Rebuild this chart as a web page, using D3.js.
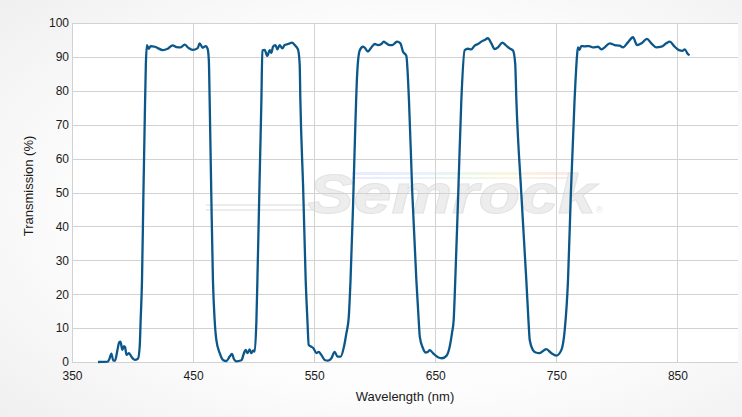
<!DOCTYPE html>
<html>
<head>
<meta charset="utf-8">
<script src="https://cdn.jsdelivr.net/npm/d3@7"></script>
<style>
  html, body { margin: 0; padding: 0; }
  body { width: 742px; height: 417px; overflow: hidden; }
  svg { display: block; font-family: "Liberation Sans", Arial, sans-serif; }
</style>
</head>
<body>
<svg id="chart" width="742" height="417"></svg>
<script>
// ---- data ----
const wavelengths = [
  371.5, 375, 379.5, 381, 382.5, 384, 385.5, 387.5, 389, 390, 391.6, 392.9, 393.8, 395, 397.1, 399, 401.8, 404.5, 405.9, 406.7,
  407.8, 409, 410, 411, 411.9, 413.3, 415, 418.3, 420.8, 424.9, 429, 433.1, 436.4, 439.7, 443, 446.3, 449.6, 453.8, 455.4, 457.9,
  460.4, 462, 463, 463.7, 465, 466.4, 467.8, 469.2, 472, 474.7, 477.5, 480.2, 482.1, 483.8, 485.7, 489.9, 492, 493.4, 494.8, 496.7,
  498.1, 499.8, 500.9, 502.3, 503.1, 505, 506.4, 507.2, 509.1, 511.3, 513.3, 514.6, 516, 518, 519.6, 521.5, 523.7, 525.6, 528.4, 531.7,
  533.9, 536.6, 538, 538.6, 541, 543, 544.4, 545.5, 547.7, 549.5, 551.8, 553.7, 555.9, 558.7, 561.4, 564.2, 566.9, 569.2, 571.9, 574.6,
  576.6, 578.5, 580, 582, 584, 585.5, 587.6, 590.3, 591.5, 594.4, 597.2, 600, 602.7, 605.5, 607.4, 609.6, 612.3, 614.6, 616.5, 618.4,
  621.2, 623.3, 626.1, 628.3, 631, 634.4, 636.3, 637.2, 639.9, 641.8, 643.6, 645.4, 648.1, 652.2, 655.5, 659.2, 661.9, 663.8, 665.2, 666.5,
  669, 671.5, 674.3, 677, 679.7, 682.5, 685.3, 688, 690.8, 693.5, 696.3, 699, 701.8, 705.4, 708.1, 711.4, 714.2, 716, 717, 721,
  725.2, 727, 728, 730.7, 733, 736, 741.7, 745.9, 750, 754.1, 756.9, 759.6, 762, 765, 767, 767.8, 769.2, 770.5, 773.4, 777,
  780.2, 784.4, 787.1, 789.9, 794, 798.2, 802.3, 805, 809.1, 813.3, 816.6, 820.3, 824.8, 828.4, 832.6, 836.7, 840.8, 843.6, 847.7, 851.3,
  854.1, 856, 858.7, 860
];
const transmission = [
  0, 0.05, 0.1, 1.0, 2.5, 0.5, 0.4, 3.5, 5.8, 6.0, 3.6, 4.7, 4.4, 2.1, 2.6, 1.6, 0.6, 1.0, 4.5, 12.4,
  24, 50, 70, 88, 93.5, 92.4, 93.2, 93.0, 92.6, 92.0, 92.4, 93.4, 92.9, 92.8, 93.6, 92.6, 92.1, 92.6, 94.0, 92.7,
  93.2, 92.4, 89, 77, 50, 24, 12.4, 6.5, 2.6, 0.6, 0.3, 1.6, 2.4, 0.8, 0.2, 0.5, 2.6, 3.6, 2.6, 3.7,
  2.6, 3.4, 3.1, 12.4, 24, 55, 77, 91.9, 92.1, 90.3, 92.0, 91.2, 93.0, 93.5, 92.2, 93.5, 92.5, 93.5, 93.8, 94.2,
  93.5, 92.2, 88, 77, 50, 24, 12.4, 5.0, 4.5, 4.0, 2.6, 3.0, 2.1, 0.6, 0.4, 1.1, 3.0, 1.6, 1.6, 4.5,
  8.5, 13, 24, 45, 70, 85, 91.9, 93.0, 92.8, 91.6, 92.8, 93.8, 93.5, 93.8, 94.5, 94.0, 93.5, 93.5, 94.0, 94.5,
  94.0, 91.6, 90.3, 77, 50, 24, 12.4, 7.5, 4.0, 2.8, 2.9, 3.5, 2.6, 1.4, 1.1, 1.8, 4.5, 8.5, 12.4, 24,
  50, 77, 92.0, 92.4, 92.2, 93.3, 93.8, 94.5, 95.0, 95.5, 94.0, 92.3, 92.8, 94.2, 93.5, 92.5, 91.9, 88, 77, 50,
  24, 12, 6.5, 3.5, 2.8, 2.6, 3.8, 2.6, 1.9, 3.5, 9.4, 24, 50, 77, 90, 92.8, 92.1, 93.2, 93.1, 93.2,
  92.8, 93.0, 92.2, 92.8, 94.0, 93.5, 93.3, 92.8, 94.3, 95.8, 93.5, 94.0, 95.3, 94.0, 92.8, 93.0, 94.0, 94.5, 93.0, 92.0,
  91.8, 92.2, 90.8, 90.5
];
const xTicks = [350, 450, 550, 650, 750, 850];
const yTicks = [0, 10, 20, 30, 40, 50, 60, 70, 80, 90, 100];
const xTitle = "Wavelength (nm)";
const yTitle = "Transmission (%)";

// ---- layout ----
const W = 742, H = 417;
const m = { left: 72, top: 23, right: 4, bottom: 55 };
const svg = d3.select("#chart");
const defs = svg.append("defs");

const bg = defs.append("radialGradient").attr("id", "bg")
  .attr("cx", "55%").attr("cy", "50%").attr("r", "75%");
bg.append("stop").attr("offset", "0%").attr("stop-color", "#ffffff");
bg.append("stop").attr("offset", "60%").attr("stop-color", "#fcfcfc");
bg.append("stop").attr("offset", "100%").attr("stop-color", "#efefef");
svg.append("rect").attr("width", W).attr("height", H).attr("fill", "url(#bg)");

const x = d3.scaleLinear().domain([350, 900]).range([m.left, W - m.right]);
const y = d3.scaleLinear().domain([0, 100]).range([H - m.bottom, m.top]);

// plot background
svg.append("rect")
  .attr("x", x(350)).attr("y", y(100))
  .attr("width", x(900) - x(350)).attr("height", y(0) - y(100))
  .attr("fill", "#ffffff");

// watermark
const wm = svg.append("g").attr("opacity", 0.9);
const rb = defs.append("linearGradient").attr("id", "rainbow").attr("x1", "0").attr("x2", "1");
[["0%", "#e8e8ff"], ["30%", "#e6f0ff"], ["50%", "#e8f8e8"], ["70%", "#fbf6dc"], ["100%", "#fbe6e6"]]
  .forEach(([o, c]) => rb.append("stop").attr("offset", o).attr("stop-color", c));
wm.append("rect").attr("x", 352).attr("y", 172).attr("width", 222).attr("height", 3).attr("fill", "url(#rainbow)");
wm.append("rect").attr("x", 352).attr("y", 177).attr("width", 222).attr("height", 2).attr("fill", "url(#rainbow)");
wm.append("rect").attr("x", 206).attr("y", 204).attr("width", 110).attr("height", 2).attr("fill", "#ebebeb");
wm.append("rect").attr("x", 206).attr("y", 209).attr("width", 110).attr("height", 2).attr("fill", "#ebebeb");
wm.append("text")
  .attr("x", 308).attr("y", 213)
  .attr("textLength", 288).attr("lengthAdjust", "spacingAndGlyphs")
  .attr("font-size", 56).attr("font-weight", "bold").attr("font-style", "italic")
  .attr("font-family", "Liberation Sans, Arial, sans-serif")
  .attr("fill", "#ececec").attr("stroke", "#e0e0e0").attr("stroke-width", 1)
  .text("Semrock");
wm.append("text").attr("x", 596).attr("y", 213).attr("font-size", 9)
  .attr("fill", "#e2e2e2").text("®");

// grid
const grid = svg.append("g").attr("stroke", "#d2d2d2").attr("stroke-width", 1).attr("shape-rendering", "crispEdges");
grid.selectAll("line.h").data(yTicks).join("line")
  .attr("x1", x(350)).attr("x2", x(900))
  .attr("y1", d => Math.round(y(d)) + 0.5).attr("y2", d => Math.round(y(d)) + 0.5);
grid.selectAll("line.v").data(xTicks).join("line")
  .attr("y1", y(100)).attr("y2", y(0))
  .attr("x1", d => Math.round(x(d)) + 0.5).attr("x2", d => Math.round(x(d)) + 0.5);

// axes
const xAxis = svg.append("g").attr("transform", `translate(0,${y(0)})`)
  .call(d3.axisBottom(x).tickValues(xTicks).tickSize(0).tickPadding(9).tickFormat(d3.format("d")));
const yAxis = svg.append("g").attr("transform", `translate(${x(350)},0)`)
  .call(d3.axisLeft(y).tickValues(yTicks).tickSize(0).tickPadding(3).tickFormat(d3.format("d")));
[xAxis, yAxis].forEach(a => {
  a.select(".domain").remove();
  a.selectAll("text").attr("font-size", 12).attr("fill", "#1a1a1a")
    .attr("font-family", "Liberation Sans, Arial, sans-serif");
});

// titles
svg.append("text").attr("x", (x(350) + x(900)) / 2).attr("y", 401)
  .attr("text-anchor", "middle").attr("font-size", 13).attr("fill", "#1a1a1a").text(xTitle);
svg.append("text")
  .attr("transform", `translate(33,186) rotate(-90)`)
  .attr("text-anchor", "middle").attr("font-size", 13).attr("fill", "#1a1a1a").text(yTitle);

// line
const data = wavelengths.map((w, i) => ({ w, t: transmission[i] }));
const line = d3.line().x(d => x(d.w)).y(d => y(d.t)).curve(d3.curveMonotoneX);
svg.append("path").datum(data)
  .attr("d", line)
  .attr("fill", "none")
  .attr("stroke", "#0b578a")
  .attr("stroke-width", 2.3)
  .attr("stroke-linejoin", "round");
</script>
</body>
</html>
